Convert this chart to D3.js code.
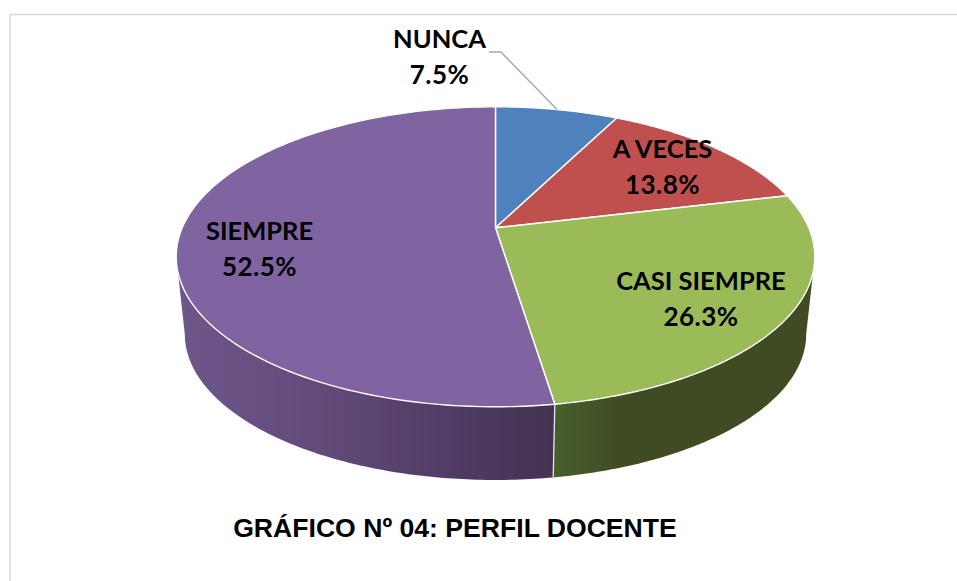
<!DOCTYPE html>
<html><head><meta charset="utf-8">
<script src="https://cdn.jsdelivr.net/npm/d3@7/dist/d3.min.js"></script>
<style>html,body{margin:0;padding:0;background:#fff;overflow:hidden}svg{display:block}</style>
</head><body><script>
const categories = ["NUNCA", "A VECES", "CASI SIEMPRE", "SIEMPRE"];
const values = [7.5, 13.8, 26.3, 52.5];
const labels = ["7.5%", "13.8%", "26.3%", "52.5%"];
const topColors = ["#4f81bd", "#c0504d", "#9bbb59", "#8064a2"];
const title = "GRÁFICO Nº 04: PERFIL DOCENTE";

const W = 957, H = 581;
const svg = d3.select("body").append("svg").attr("width", W).attr("height", H);

// perspective projection of the pie disc
const cx = 495.5, R = 313.3, S = 144.4, k = 0.1933;
const topDisc = {y: 227.8, s: 1}, bottomDisc = {y: 305.8, s: 0.973};
const project = (a, disc, r = 1) => {
  const u = r * Math.sin(a), v = -r * Math.cos(a), w = 1 - k * v;
  return [cx + disc.s * R * u / w, disc.y + disc.s * S * v / w];
};
const sample = (a0, a1, disc) => d3.range(0, 121).map(i => project(a0 + (a1 - a0) * i / 120, disc));
const line = d3.line();

const arcs = d3.pie().sort(null).value(d => d)(values);

// gradients of the side wall
const defs = svg.append("defs");
const grad = (id, stops) => {
  const g = defs.append("linearGradient").attr("id", id).attr("gradientUnits", "userSpaceOnUse")
    .attr("x1", stops[0][0]).attr("x2", stops[stops.length - 1][0]).attr("y1", 0).attr("y2", 0);
  stops.forEach(s => g.append("stop")
    .attr("offset", (s[0] - stops[0][0]) / (stops[stops.length - 1][0] - stops[0][0]))
    .attr("stop-color", s[1]));
};
grad("wallPurple", [[177, "#6e568c"], [330, "#614a78"], [450, "#503c64"], [555, "#443352"]]);
grad("wallGreen", [[555, "#4a5d2c"], [590, "#445427"], [620, "#3f4c23"], [815, "#3f4c23"]]);

// frame
svg.append("path").attr("d", line([[10, H], [10, 14.5], [W, 14.5]]))
  .attr("fill", "none").attr("stroke", "#d9d9d9").attr("stroke-width", 1.5);

// walls: bounded by the silhouette angles of the projected disc
const wallSeam = arcs[2].endAngle;
const wallRight = Math.acos(-k), wallLeft = 2 * Math.PI - wallRight;
const wall = (a0, a1, fill) => svg.append("path")
  .attr("d", line(sample(a0, a1, topDisc).concat(sample(a1, a0, bottomDisc))) + "Z")
  .attr("fill", fill);
wall(wallRight, wallSeam, "url(#wallGreen)");
wall(wallSeam, wallLeft, "url(#wallPurple)");
svg.append("path").attr("d", line([project(wallSeam, topDisc), project(wallSeam, bottomDisc)]))
  .attr("stroke", "#e8e4ec").attr("stroke-width", 1.3).attr("fill", "none");

// top slices
arcs.forEach((d, i) => {
  svg.append("path")
    .attr("d", line([project(0, topDisc, 0)].concat(sample(d.startAngle, d.endAngle, topDisc))) + "Z")
    .attr("fill", topColors[i]).attr("stroke", "#fff").attr("stroke-width", 1.4)
    .attr("stroke-linejoin", "round");
});

// leader line for NUNCA
const leaderEnd = project((arcs[0].startAngle + arcs[0].endAngle) / 2, topDisc);
svg.append("path").attr("d", line([[489, 52], [501, 52], leaderEnd]))
  .attr("fill", "none").attr("stroke", "#a6a6a6").attr("stroke-width", 1.4);

// data labels
const labelAnchors = [[439.5, 48], [662.5, 158], [701, 290], [259.5, 240]];
const labelFont = "Lato, Carlito, sans-serif";
const text = (s, x, y, size, family, spacing = 0) => svg.append("text")
  .attr("x", x).attr("y", y).attr("text-anchor", "middle")
  .attr("font-family", family).attr("font-weight", 700).attr("font-size", size)
  .attr("letter-spacing", spacing)
  .attr("fill", "#000").text(s);
categories.forEach((c, i) => {
  text(c, labelAnchors[i][0], labelAnchors[i][1], 25.5, labelFont);
  text(labels[i], labelAnchors[i][0], labelAnchors[i][1] + 36, 26, labelFont, 0.5);
});
text(title, 455, 537, 26.6, "'Liberation Sans', Arial, sans-serif");
</script></body></html>
